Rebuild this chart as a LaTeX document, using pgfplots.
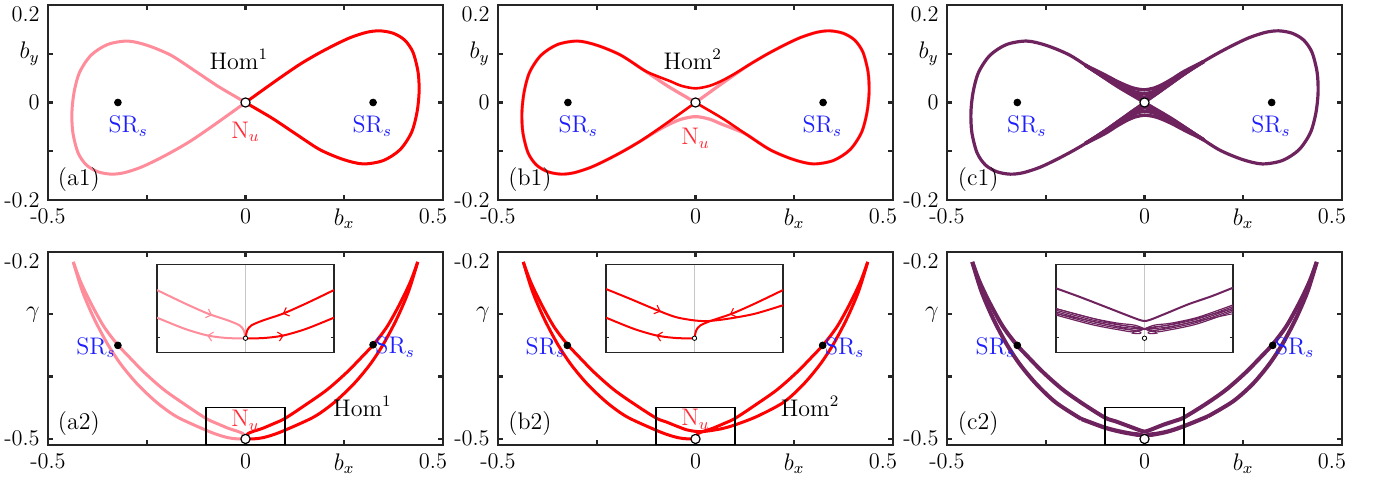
\documentclass[border=0pt]{standalone}
\usepackage{fontspec}
\usepackage{pgfplots}
\pgfplotsset{compat=1.18}
\usepackage{pgfplotstable}
\usetikzlibrary{decorations.markings,arrows.meta}

\definecolor{framegray}{RGB}{38,38,38}
\definecolor{homred}{RGB}{255,0,0}
\definecolor{hompink}{RGB}{255,140,155}
\definecolor{hompurple}{RGB}{110,35,95}
\definecolor{srblue}{RGB}{30,30,255}
\definecolor{nured}{RGB}{255,45,55}

\newcommand\lowerlab[1]{\raisebox{-4.6pt}[\height][\depth]{#1}}
\newcommand\shiftleft[1]{\hspace*{-10pt}#1}
\newcommand\biglab[1]{{\fontsize{12}{14}\selectfont #1}}

% ---------- (b_x, b_y) orbits ----------
\pgfplotstableread[row sep=\\]{x y\\
0 0\\ 0.055 0.032\\ 0.097 0.056\\ 0.139 0.079\\ 0.181 0.099\\ 0.223 0.117\\ 0.265 0.133\\
0.307 0.144\\ 0.340 0.147\\ 0.374 0.142\\ 0.403 0.128\\ 0.424 0.103\\ 0.437 0.062\\ 0.4395 0.021\\
0.434 -0.021\\ 0.420 -0.062\\ 0.391 -0.097\\ 0.349 -0.119\\ 0.298 -0.126\\ 0.248 -0.117\\
0.189 -0.097\\ 0.130 -0.066\\ 0.071 -0.034\\ 0.021 -0.010\\ 0 0\\}\lobeR
\pgfplotstableread[row sep=\\]{x y\\
0 0\\ -0.055 -0.032\\ -0.097 -0.056\\ -0.139 -0.079\\ -0.181 -0.099\\ -0.223 -0.117\\ -0.265 -0.133\\
-0.307 -0.144\\ -0.340 -0.147\\ -0.374 -0.142\\ -0.403 -0.128\\ -0.424 -0.103\\ -0.437 -0.062\\ -0.4395 -0.021\\
-0.434 0.021\\ -0.420 0.062\\ -0.391 0.097\\ -0.349 0.119\\ -0.298 0.126\\ -0.248 0.117\\
-0.189 0.097\\ -0.130 0.066\\ -0.071 0.034\\ -0.021 0.010\\ 0 0\\}\lobeL
\pgfplotstableread[row sep=\\]{x y\\
0 0\\ 0.021 -0.010\\ 0.071 -0.034\\ 0.130 -0.066\\ 0.189 -0.097\\ 0.248 -0.117\\ 0.298 -0.126\\
0.349 -0.119\\ 0.391 -0.097\\ 0.420 -0.062\\ 0.434 -0.021\\ 0.4395 0.021\\ 0.437 0.062\\ 0.424 0.103\\
0.403 0.128\\ 0.374 0.142\\ 0.340 0.147\\ 0.307 0.144\\ 0.265 0.133\\ 0.223 0.117\\ 0.181 0.099\\
0.139 0.079\\ 0.097 0.058\\ 0.065 0.044\\ 0.035 0.034\\ 0 0.029\\ -0.035 0.034\\ -0.065 0.044\\
-0.100 0.055\\ -0.130 0.066\\ -0.189 0.097\\ -0.248 0.117\\ -0.298 0.126\\ -0.349 0.119\\ -0.391 0.097\\
-0.420 0.062\\ -0.434 0.021\\ -0.4395 -0.021\\ -0.437 -0.062\\ -0.424 -0.103\\ -0.403 -0.128\\
-0.374 -0.142\\ -0.340 -0.147\\ -0.307 -0.144\\ -0.265 -0.133\\ -0.223 -0.117\\ -0.181 -0.099\\
-0.139 -0.079\\ -0.097 -0.056\\ -0.055 -0.032\\ 0 0\\}\homTwoA
\pgfplotstableread[row sep=\\]{x y\\
0 0\\ -0.021 0.010\\ -0.071 0.034\\ -0.130 0.066\\ -0.189 0.097\\ -0.248 0.117\\ -0.298 0.126\\
-0.349 0.119\\ -0.391 0.097\\ -0.420 0.062\\ -0.434 0.021\\ -0.4395 -0.021\\ -0.437 -0.062\\ -0.424 -0.103\\
-0.403 -0.128\\ -0.374 -0.142\\ -0.340 -0.147\\ -0.307 -0.144\\ -0.265 -0.133\\ -0.223 -0.117\\ -0.181 -0.099\\
-0.139 -0.079\\ -0.097 -0.058\\ -0.065 -0.044\\ -0.035 -0.034\\ 0 -0.029\\ 0.035 -0.034\\ 0.065 -0.044\\
0.100 -0.055\\ 0.130 -0.066\\ 0.189 -0.097\\ 0.248 -0.117\\ 0.298 -0.126\\ 0.349 -0.119\\ 0.391 -0.097\\
0.420 -0.062\\ 0.434 -0.021\\ 0.4395 0.021\\ 0.437 0.062\\ 0.424 0.103\\ 0.403 0.128\\
0.374 0.142\\ 0.340 0.147\\ 0.307 0.144\\ 0.265 0.133\\ 0.223 0.117\\ 0.181 0.099\\
0.139 0.079\\ 0.097 0.056\\ 0.055 0.032\\ 0 0\\}\homTwoB
% passages of the long orbit close to the saddle
\pgfplotstableread[row sep=\\]{x y\\
-0.15 0.0765\\ -0.10 0.0564\\ -0.07 0.0436\\ -0.045 0.0344\\ -0.025 0.0288\\ 0 0.026\\ 0.025 0.0298\\ 0.045 0.0368\\ 0.07 0.0482\\ 0.10 0.0636\\ 0.15 0.084\\}\humpUa
\pgfplotstableread[row sep=\\]{x y\\
-0.15 0.0765\\ -0.10 0.0531\\ -0.07 0.0394\\ -0.045 0.0288\\ -0.025 0.0219\\ 0 0.018\\ 0.025 0.0231\\ 0.045 0.0317\\ 0.07 0.0444\\ 0.10 0.0607\\ 0.15 0.084\\}\humpUb
\pgfplotstableread[row sep=\\]{x y\\
-0.15 0.0765\\ -0.10 0.0512\\ -0.07 0.0367\\ -0.045 0.0250\\ -0.025 0.0166\\ 0 0.011\\ 0.025 0.0182\\ 0.045 0.0283\\ 0.07 0.0421\\ 0.10 0.0590\\ 0.15 0.084\\}\humpUc
\pgfplotstableread[row sep=\\]{x y\\
-0.15 0.0765\\ -0.10 0.0502\\ -0.07 0.0353\\ -0.045 0.0230\\ -0.025 0.0132\\ 0 0.005\\ 0.025 0.0150\\ 0.045 0.0264\\ 0.07 0.0408\\ 0.10 0.0582\\ 0.15 0.084\\}\humpUd
\pgfplotstableread[row sep=\\]{x y\\
0.15 -0.0765\\ 0.10 -0.0564\\ 0.07 -0.0436\\ 0.045 -0.0344\\ 0.025 -0.0288\\ 0 -0.026\\ -0.025 -0.0298\\ -0.045 -0.0368\\ -0.07 -0.0482\\ -0.10 -0.0636\\ -0.15 -0.084\\}\humpLa
\pgfplotstableread[row sep=\\]{x y\\
0.15 -0.0765\\ 0.10 -0.0531\\ 0.07 -0.0394\\ 0.045 -0.0288\\ 0.025 -0.0219\\ 0 -0.018\\ -0.025 -0.0231\\ -0.045 -0.0317\\ -0.07 -0.0444\\ -0.10 -0.0607\\ -0.15 -0.084\\}\humpLb
\pgfplotstableread[row sep=\\]{x y\\
0.15 -0.0765\\ 0.10 -0.0512\\ 0.07 -0.0367\\ 0.045 -0.0250\\ 0.025 -0.0166\\ 0 -0.011\\ -0.025 -0.0182\\ -0.045 -0.0283\\ -0.07 -0.0421\\ -0.10 -0.0590\\ -0.15 -0.084\\}\humpLc
\pgfplotstableread[row sep=\\]{x y\\
0.15 -0.0765\\ 0.10 -0.0502\\ 0.07 -0.0353\\ 0.045 -0.0230\\ 0.025 -0.0132\\ 0 -0.005\\ -0.025 -0.0150\\ -0.045 -0.0264\\ -0.07 -0.0408\\ -0.10 -0.0582\\ -0.15 -0.084\\}\humpLd

% ---------- (b_x, gamma) orbits ----------
\pgfplotstableread[row sep=\\]{x y\\
0 -0.5003\\ 0.0019 -0.495\\ 0.0067 -0.4915\\ 0.0198 -0.4881\\ 0.0422 -0.4835\\ 0.0684 -0.4765\\
0.1 -0.4673\\ 0.156 -0.4438\\ 0.207 -0.421\\ 0.257 -0.393\\ 0.300 -0.365\\ 0.325 -0.348\\
0.359 -0.3193\\ 0.392 -0.2817\\ 0.418 -0.247\\ 0.436 -0.216\\}\Rin
\pgfplotstableread[row sep=\\]{x y\\
0 -0.5003\\ 0.0198 -0.5002\\ 0.0422 -0.4985\\ 0.0684 -0.4939\\ 0.1 -0.4862\\ 0.173 -0.465\\
0.224 -0.442\\ 0.274 -0.412\\ 0.316 -0.380\\ 0.350 -0.347\\ 0.384 -0.306\\ 0.413 -0.263\\ 0.436 -0.216\\}\Rout
\pgfplotstableread[row sep=\\]{x y\\
-0.436 -0.216\\ -0.418 -0.247\\ -0.392 -0.2817\\ -0.359 -0.3193\\ -0.325 -0.348\\ -0.300 -0.365\\
-0.257 -0.393\\ -0.207 -0.421\\ -0.156 -0.4438\\ -0.1 -0.4673\\ -0.0684 -0.4765\\ -0.0422 -0.4835\\
-0.0198 -0.4881\\ -0.0067 -0.4915\\ -0.0019 -0.495\\ 0 -0.5003\\}\Lin
\pgfplotstableread[row sep=\\]{x y\\
-0.436 -0.216\\ -0.413 -0.263\\ -0.384 -0.306\\ -0.350 -0.347\\ -0.316 -0.380\\ -0.274 -0.412\\
-0.224 -0.442\\ -0.173 -0.465\\ -0.1 -0.4862\\ -0.0684 -0.4939\\ -0.0422 -0.4985\\ -0.0198 -0.5002\\ 0 -0.5003\\}\Lout
\pgfplotstableread[row sep=\\]{x y\\
-0.436 -0.216\\ -0.418 -0.247\\ -0.392 -0.2817\\ -0.359 -0.3193\\ -0.325 -0.348\\ -0.300 -0.365\\
-0.257 -0.393\\ -0.207 -0.421\\ -0.156 -0.4438\\ -0.1 -0.4666\\ -0.0736 -0.4731\\ -0.0437 -0.4807\\
-0.0213 -0.4858\\ 0 -0.4881\\ 0.0161 -0.4885\\ 0.0385 -0.4869\\ 0.0684 -0.4835\\ 0.1 -0.4777\\
0.156 -0.464\\ 0.224 -0.441\\ 0.274 -0.412\\ 0.316 -0.380\\ 0.350 -0.347\\ 0.384 -0.306\\
0.413 -0.263\\ 0.436 -0.216\\}\Across
\pgfplotstableread[row sep=\\]{x y\\
-0.436 -0.216\\ -0.418 -0.247\\ -0.392 -0.2817\\ -0.359 -0.3193\\ -0.325 -0.348\\ -0.300 -0.365\\
-0.257 -0.393\\ -0.207 -0.421\\ -0.156 -0.4438\\ -0.1 -0.4661\\ -0.0736 -0.4719\\ -0.0437 -0.4789\\
-0.0213 -0.4842\\ -0.0064 -0.4876\\ 0 -0.4885\\ 0.0067 -0.4876\\ 0.0236 -0.4835\\ 0.0497 -0.477\\
0.0759 -0.4715\\ 0.1 -0.4657\\ 0.156 -0.4438\\ 0.207 -0.421\\ 0.257 -0.393\\ 0.300 -0.365\\
0.325 -0.348\\ 0.359 -0.3193\\ 0.392 -0.2817\\ 0.418 -0.247\\ 0.436 -0.216\\}\cV
\pgfplotstableread[row sep=\\]{x y\\
-0.436 -0.216\\ -0.413 -0.263\\ -0.384 -0.306\\ -0.350 -0.347\\ -0.316 -0.380\\ -0.274 -0.412\\
-0.224 -0.442\\ -0.16 -0.4682\\}\cOutL
\pgfplotstableread[row sep=\\]{x y\\
0.16 -0.4642\\ 0.224 -0.440\\ 0.274 -0.412\\ 0.316 -0.380\\ 0.350 -0.347\\ 0.384 -0.306\\
0.413 -0.263\\ 0.436 -0.216\\}\cOutR
\pgfplotstableread[row sep=\\]{x y\\
-0.16 -0.4660\\ -0.10 -0.4800\\ -0.06 -0.4865\\ -0.03 -0.4900\\ -0.01 -0.4915\\ 0.01 -0.4959\\
0.03 -0.4944\\ 0.06 -0.4904\\ 0.10 -0.4819\\ 0.16 -0.4664\\}\cBa
\pgfplotstableread[row sep=\\]{x y\\
-0.16 -0.4671\\ -0.10 -0.4811\\ -0.06 -0.4876\\ -0.03 -0.4911\\ -0.01 -0.4926\\ 0.01 -0.4948\\
0.03 -0.4933\\ 0.06 -0.4893\\ 0.10 -0.4808\\ 0.16 -0.4653\\}\cBb
\pgfplotstableread[row sep=\\]{x y\\
-0.16 -0.4682\\ -0.10 -0.4822\\ -0.06 -0.4887\\ -0.03 -0.4922\\ -0.01 -0.4937\\ 0.01 -0.4937\\
0.03 -0.4922\\ 0.06 -0.4882\\ 0.10 -0.4797\\ 0.16 -0.4642\\}\cBc
\pgfplotstableread[row sep=\\]{x y\\
-0.16 -0.4693\\ -0.10 -0.4833\\ -0.06 -0.4898\\ -0.03 -0.4933\\ -0.01 -0.4948\\ 0.01 -0.4926\\
0.03 -0.4911\\ 0.06 -0.4871\\ 0.10 -0.4786\\ 0.16 -0.4631\\}\cBd
\pgfplotstableread[row sep=\\]{x y\\
-0.16 -0.4704\\ -0.10 -0.4844\\ -0.06 -0.4909\\ -0.03 -0.4944\\ -0.01 -0.4959\\ 0.01 -0.4915\\
0.03 -0.4900\\ 0.06 -0.4860\\ 0.10 -0.4775\\ 0.16 -0.4620\\}\cBe
\pgfplotstableread[row sep=\\]{x y\\
-0.1 -0.4835\\ -0.06 -0.4885\\ -0.03 -0.4925\\ -0.012 -0.4950\\ -0.004 -0.4962\\ -0.006 -0.4972\\
-0.014 -0.4968\\ -0.010 -0.4955\\ 0 -0.4940\\ 0.02 -0.4920\\ 0.05 -0.4880\\ 0.1 -0.4800\\}\hookL
\pgfplotstableread[row sep=\\]{x y\\
0.1 -0.4835\\ 0.06 -0.4885\\ 0.03 -0.4925\\ 0.012 -0.4950\\ 0.004 -0.4962\\ 0.006 -0.4972\\
0.014 -0.4968\\ 0.010 -0.4955\\ 0 -0.4940\\ -0.02 -0.4920\\ -0.05 -0.4880\\ -0.1 -0.4800\\}\hookR

\tikzset{
  flowfwd/.style={postaction={decorate}, decoration={markings,
    mark=at position #1 with {\arrow{Straight Barb[length=2.4pt,width=4.6pt,line width=0.55pt]}}}},
  flowbwd/.style={postaction={decorate}, decoration={markings,
    mark=at position #1 with {\arrowreversed{Straight Barb[length=2.4pt,width=4.6pt,line width=0.55pt]}}}},
}

\pgfplotsset{
  panel/.style={scale only axis, width=197.5pt, anchor=south west,
    xmin=-0.5, xmax=0.5,
    xtick={-0.5,-0.25,0,0.25,0.5}, xticklabels={-0.5,,0,\biglab{$b_x$},\shiftleft{0.5}},
    axis line style={draw=framegray, line width=1.2pt},
    tick align=inside, major tick length=2.6pt,
    tick style={draw=framegray, line width=1.2pt},
    tick label style={font=\fontsize{11.2}{13}\selectfont},
    every axis plot/.append style={line join=round}},
  toprow/.style={panel, height=97.5pt, ymin=-0.2, ymax=0.2,
    ytick={-0.2,-0.1,0,0.1,0.2}, yticklabels={-0.2,,0,\biglab{$b_y$},\lowerlab{0.2}}},
  botrow/.style={panel, height=96.5pt, ymin=-0.51, ymax=-0.2,
    ytick={-0.5,-0.4,-0.3,-0.2}, yticklabels={-0.5,,\biglab{$\gamma$},\lowerlab{-0.2}}},
  inset/.style={scale only axis, width=88.5pt, height=43.8pt, anchor=south west,
    xmin=-0.1, xmax=0.1, ymin=-0.51, ymax=-0.45,
    xtick=\empty, ytick={-0.5}, yticklabels={},
    axis line style={draw=framegray, line width=0.7pt},
    tick align=inside, major tick length=1.3pt,
    tick style={draw=framegray, line width=0.7pt},
    axis background/.style={fill=white},
    restrict x to domain=-0.1001:0.1001},
  srdots/.style={only marks, mark=*, mark size=1.7pt, black},
  nudot/.style={only marks, mark=*, mark size=2.3pt,
    mark options={fill=white, draw=black, line width=0.6pt}},
  nudotsmall/.style={only marks, mark=*, mark size=1.1pt,
    mark options={fill=white, draw=black, line width=0.4pt}},
}

\begin{document}
\fontsize{12}{14}\selectfont
\begin{tikzpicture}
\useasboundingbox (0pt,0pt) rectangle (690pt,240.5pt);

% ===== (a1) =====
\begin{axis}[toprow, at={(24pt,140.5pt)}]
\addplot[hompink, line width=1.5pt, smooth] table {\lobeL};
\addplot[homred, line width=1.5pt, smooth] table {\lobeR};
\addplot[srdots] coordinates {(-0.323,0) (0.323,0)};
\addplot[nudot] coordinates {(0,0)};
\node at (axis cs:-0.017,0.088) {$\mathrm{Hom}^1$};
\node[text=nured] at (axis cs:0,-0.060) {$\mathrm{N}_u$};
\node[text=srblue] at (axis cs:-0.297,-0.048) {$\mathrm{SR}_s$};
\node[text=srblue] at (axis cs:0.321,-0.048) {$\mathrm{SR}_s$};
\node at (rel axis cs:0.078,0.103) {(a1)};
\end{axis}

% ===== (b1) =====
\begin{axis}[toprow, at={(249pt,140.5pt)}]
\addplot[hompink, line width=1.6pt, smooth] table {\homTwoB};
\addplot[homred, line width=1.3pt, smooth] table {\homTwoA};
\addplot[srdots] coordinates {(-0.323,0) (0.323,0)};
\addplot[nudot] coordinates {(0,0)};
\node at (axis cs:-0.007,0.088) {$\mathrm{Hom}^2$};
\node[text=nured] at (axis cs:0,-0.074) {$\mathrm{N}_u$};
\node[text=srblue] at (axis cs:-0.297,-0.048) {$\mathrm{SR}_s$};
\node[text=srblue] at (axis cs:0.321,-0.048) {$\mathrm{SR}_s$};
\node at (rel axis cs:0.081,0.103) {(b1)};
\end{axis}

% ===== (c1) =====
\begin{axis}[toprow, at={(473.5pt,140.5pt)}]
\addplot[hompurple, line width=1.6pt, smooth] table {\lobeL};
\addplot[hompurple, line width=1.6pt, smooth] table {\lobeR};
\addplot[hompurple, line width=1.7pt, smooth] table {\humpUa};
\addplot[hompurple, line width=1.7pt, smooth] table {\humpUb};
\addplot[hompurple, line width=1.7pt, smooth] table {\humpUc};
\addplot[hompurple, line width=1.7pt, smooth] table {\humpUd};
\addplot[hompurple, line width=1.7pt, smooth] table {\humpLa};
\addplot[hompurple, line width=1.7pt, smooth] table {\humpLb};
\addplot[hompurple, line width=1.7pt, smooth] table {\humpLc};
\addplot[hompurple, line width=1.7pt, smooth] table {\humpLd};
\addplot[srdots] coordinates {(-0.322,0) (0.322,0)};
\addplot[nudot] coordinates {(0,0)};
\node[text=srblue] at (axis cs:-0.298,-0.048) {$\mathrm{SR}_s$};
\node[text=srblue] at (axis cs:0.320,-0.048) {$\mathrm{SR}_s$};
\node at (rel axis cs:0.079,0.103) {(c1)};
\end{axis}

% ===== (a2) =====
\begin{axis}[botrow, at={(24pt,18pt)}]
\addplot[hompink, line width=1.5pt, smooth] table {\Lin};
\addplot[hompink, line width=1.5pt, smooth] table {\Lout};
\addplot[homred, line width=1.5pt, smooth] table {\Rin};
\addplot[homred, line width=1.5pt, smooth] table {\Rout};
\draw[black, line width=0.8pt] (axis cs:-0.1,-0.51) rectangle (axis cs:0.1,-0.45);
\addplot[srdots] coordinates {(-0.323,-0.350) (0.323,-0.349)};
\addplot[nudot] coordinates {(0,-0.5003)};
\node[text=nured] at (axis cs:0,-0.470) {$\mathrm{N}_u$};
\node at (axis cs:0.296,-0.4477) {$\mathrm{Hom}^1$};
\node[text=srblue, anchor=east, inner sep=1pt, yshift=-1pt] at (axis cs:-0.323,-0.350) {$\mathrm{SR}_s$};
\node[text=srblue, anchor=west, inner sep=1pt, yshift=-1pt] at (axis cs:0.323,-0.349) {$\mathrm{SR}_s$};
\node at (rel axis cs:0.078,0.112) {(a2)};
\end{axis}
\begin{axis}[inset, at={(78.5pt,64.3pt)}]
\addplot[gray!45, line width=0.7pt] coordinates {(0,-0.51) (0,-0.45)};
\addplot[hompink, line width=1pt, smooth, flowfwd=0.58] table {\Lin};
\addplot[hompink, line width=1pt, smooth, flowbwd=0.58] table {\Lout};
\addplot[homred, line width=1pt, smooth, flowbwd=0.46] table {\Rin};
\addplot[homred, line width=1pt, smooth, flowfwd=0.42] table {\Rout};
\addplot[nudotsmall] coordinates {(0,-0.5003)};
\end{axis}

% ===== (b2) =====
\begin{axis}[botrow, at={(249pt,18pt)}]
\addplot[homred, line width=1.5pt, smooth] table {\Lout};
\addplot[homred, line width=1.5pt, smooth] table {\Across};
\addplot[homred, line width=1.5pt, smooth] table {\Rin};
\draw[black, line width=0.8pt] (axis cs:-0.1,-0.51) rectangle (axis cs:0.1,-0.45);
\addplot[srdots] coordinates {(-0.3245,-0.350) (0.322,-0.350)};
\addplot[nudot] coordinates {(0,-0.5003)};
\node[text=nured] at (axis cs:0,-0.469) {$\mathrm{N}_u$};
\node at (axis cs:0.29,-0.4477) {$\mathrm{Hom}^2$};
\node[text=srblue, anchor=east, inner sep=1pt, yshift=-1pt] at (axis cs:-0.3245,-0.350) {$\mathrm{SR}_s$};
\node[text=srblue, anchor=west, inner sep=1pt, yshift=-1pt] at (axis cs:0.322,-0.350) {$\mathrm{SR}_s$};
\node at (rel axis cs:0.081,0.112) {(b2)};
\end{axis}
\begin{axis}[inset, at={(303pt,64.3pt)}]
\addplot[gray!45, line width=0.7pt] coordinates {(0,-0.51) (0,-0.45)};
\addplot[homred, line width=1pt, smooth, flowbwd=0.58] table {\Lout};
\addplot[homred, line width=1pt, smooth, flowfwd=0.32] table {\Across};
\addplot[homred, line width=1pt, smooth, flowbwd=0.44] table {\Rin};
\addplot[nudotsmall] coordinates {(0,-0.5003)};
\end{axis}

% ===== (c2) =====
\begin{axis}[botrow, at={(473.5pt,18pt)}]
\addplot[hompurple, line width=2pt, smooth] table {\cV};
\addplot[hompurple, line width=2pt, smooth] table {\cOutL};
\addplot[hompurple, line width=2pt, smooth] table {\cOutR};
\addplot[hompurple, line width=0.8pt, smooth] table {\cBa};
\addplot[hompurple, line width=0.8pt, smooth] table {\cBb};
\addplot[hompurple, line width=0.8pt, smooth] table {\cBc};
\addplot[hompurple, line width=0.8pt, smooth] table {\cBd};
\addplot[hompurple, line width=0.8pt, smooth] table {\cBe};
\draw[black, line width=0.8pt] (axis cs:-0.1,-0.51) rectangle (axis cs:0.1,-0.45);
\addplot[srdots] coordinates {(-0.322,-0.350) (0.3245,-0.350)};
\addplot[nudot] coordinates {(0,-0.5003)};
\node[text=srblue, anchor=east, inner sep=1pt, yshift=-1pt] at (axis cs:-0.322,-0.350) {$\mathrm{SR}_s$};
\node[text=srblue, anchor=west, inner sep=1pt, yshift=-1pt] at (axis cs:0.3245,-0.350) {$\mathrm{SR}_s$};
\node at (rel axis cs:0.079,0.112) {(c2)};
\end{axis}
\begin{axis}[inset, at={(528pt,64.3pt)}]
\addplot[gray!45, line width=0.7pt] coordinates {(0,-0.51) (0,-0.45)};
\addplot[hompurple, line width=1pt, smooth] table {\cV};
\addplot[hompurple, line width=0.6pt, smooth] table {\cBa};
\addplot[hompurple, line width=0.6pt, smooth] table {\cBb};
\addplot[hompurple, line width=0.6pt, smooth] table {\cBc};
\addplot[hompurple, line width=0.6pt, smooth] table {\cBd};
\addplot[hompurple, line width=0.6pt, smooth] table {\cBe};
\addplot[hompurple, line width=0.5pt, smooth] table {\hookL};
\addplot[hompurple, line width=0.5pt, smooth] table {\hookR};
\addplot[nudotsmall] coordinates {(0,-0.5003)};
\end{axis}

\end{tikzpicture}
\end{document}
